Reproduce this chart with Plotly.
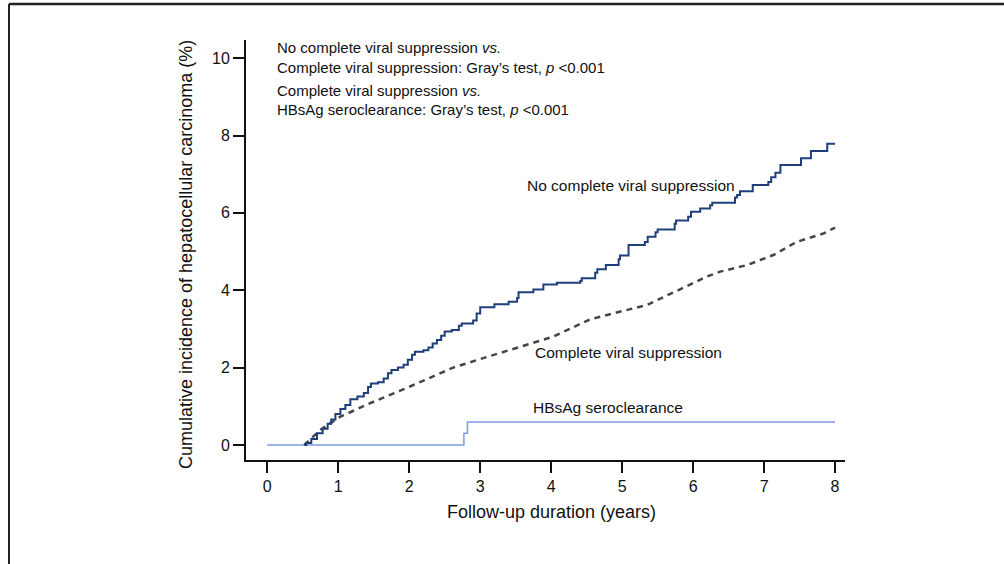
import plotly.graph_objects as go

# ---- data ----
ncvs_x = [0.52, 0.55, 0.62, 0.70, 0.78, 0.85, 0.90, 0.96, 1.03, 1.10, 1.17, 1.27, 1.36, 1.42, 1.46,
          1.56, 1.64, 1.70, 1.75, 1.84, 1.92, 1.98, 2.04, 2.08, 2.20, 2.27, 2.33, 2.39, 2.45, 2.50,
          2.60, 2.70, 2.74, 2.90, 2.95, 3.00, 3.20, 3.40, 3.52, 3.54, 3.75, 3.89, 4.08, 4.41, 4.43,
          4.62, 4.65, 4.77, 4.95, 4.97, 5.09, 5.32, 5.36, 5.47, 5.50, 5.74, 5.76, 5.93, 5.97, 6.10,
          6.24, 6.27, 6.59, 6.62, 6.66, 6.84, 7.06, 7.10, 7.16, 7.23, 7.52, 7.66, 7.89, 8.00]
ncvs_y = [0.00, 0.05, 0.15, 0.30, 0.42, 0.55, 0.66, 0.80, 0.93, 1.03, 1.18, 1.25, 1.34, 1.50, 1.59,
          1.62, 1.72, 1.85, 1.94, 2.00, 2.07, 2.20, 2.33, 2.41, 2.45, 2.52, 2.62, 2.71, 2.82, 2.93,
          2.97, 3.08, 3.14, 3.22, 3.40, 3.56, 3.64, 3.70, 3.80, 3.95, 4.02, 4.15, 4.19, 4.24, 4.31,
          4.45, 4.54, 4.65, 4.80, 4.90, 5.17, 5.25, 5.38, 5.50, 5.57, 5.72, 5.80, 5.90, 6.03, 6.11,
          6.20, 6.26, 6.40, 6.46, 6.56, 6.72, 6.80, 6.92, 7.04, 7.24, 7.41, 7.60, 7.79, 7.79]

cvs_x = [0.52, 0.60, 0.75, 1.03, 1.45, 2.01, 2.62, 3.00, 3.51, 4.03, 4.55, 4.97, 5.35, 5.72, 6.19,
         6.38, 6.76, 7.13, 7.46, 7.84, 8.00]
cvs_y = [0.00, 0.13, 0.39, 0.73, 1.08, 1.51, 2.00, 2.22, 2.50, 2.80, 3.25, 3.44, 3.62, 3.94, 4.35,
         4.48, 4.65, 4.91, 5.25, 5.47, 5.62]

hbs_x = [0.00, 2.77, 2.82, 8.00]
hbs_y = [0.00, 0.30, 0.59, 0.59]

x_ticks = [0, 1, 2, 3, 4, 5, 6, 7, 8]
y_ticks = [0, 2, 4, 6, 8, 10]

labels = ["No complete viral suppression", "Complete viral suppression", "HBsAg seroclearance"]
label_pos = [(5.13, 6.72), (5.09, 2.40), (4.80, 0.96)]

stats_lines = [
    "No complete viral suppression <i>vs.</i>",
    "Complete viral suppression: Gray\u2019s test, <i>p</i> <0.001",
    "Complete viral suppression <i>vs.</i>",
    "HBsAg seroclearance: Gray\u2019s test, <i>p</i> <0.001",
]
x_title = "Follow-up duration (years)"
y_title = "Cumulative incidence of hepatocellular carcinoma (%)"

FONT = "Liberation Sans, Arial, sans-serif"
W, H = 1004, 564
L, R, T, B = 246, 845, 40, 460

fig = go.Figure()
fig.add_trace(go.Scatter(x=hbs_x, y=hbs_y, mode="lines", line=dict(color="#7f9ce2", width=1.5, shape="hv"),
                         showlegend=False, hoverinfo="skip"))
fig.add_trace(go.Scatter(x=cvs_x, y=cvs_y, mode="lines", line=dict(color="#454545", width=2.5, dash="6px,5px"),
                         showlegend=False, hoverinfo="skip"))
fig.add_trace(go.Scatter(x=ncvs_x, y=ncvs_y, mode="lines", line=dict(color="#1f3f7c", width=2, shape="hv"),
                         showlegend=False, hoverinfo="skip"))

for txt, (lx, ly) in zip(labels, label_pos):
    fig.add_annotation(x=lx, y=ly, text=txt, showarrow=False, xanchor="center", yanchor="middle",
                       font=dict(family=FONT, size=15.5, color="#111"))

def px_to_paper(px, py):
    return (px - L) / (R - L), (B - py) / (B - T)

for txt, py in zip(stats_lines, [47, 67, 90, 110]):
    xp, yp = px_to_paper(275, py)
    fig.add_annotation(x=xp, y=yp, xref="paper", yref="paper", text=txt, showarrow=False,
                       xanchor="left", yanchor="middle", font=dict(family=FONT, size=15, color="#111"))

# axis titles
xp, yp = px_to_paper(551, 512)
fig.add_annotation(x=xp, y=yp, xref="paper", yref="paper", text=x_title, showarrow=False,
                   xanchor="center", yanchor="middle", font=dict(family=FONT, size=18, color="#111"))
xp, yp = px_to_paper(186, 255)
fig.add_annotation(x=xp, y=yp, xref="paper", yref="paper", text=y_title, showarrow=False, textangle=-90,
                   xanchor="center", yanchor="middle", font=dict(family=FONT, size=18, color="#111"))

# outer frame (top and left)
x0, y0 = px_to_paper(9, 4)
x1, _ = px_to_paper(1004, 4)
_, y1 = px_to_paper(9, 564)
fig.add_shape(type="line", xref="paper", yref="paper", x0=x0, y0=y0, x1=x1, y1=y0,
              line=dict(color="#222", width=2.5))
fig.add_shape(type="line", xref="paper", yref="paper", x0=x0, y0=y0, x1=x0, y1=y1,
              line=dict(color="#222", width=2))

fig.update_layout(
    width=W, height=H,
    margin=dict(l=L, r=W - R, t=T, b=H - B, pad=0),
    paper_bgcolor="white", plot_bgcolor="white",
    font=dict(family=FONT, size=16, color="#111"),
    xaxis=dict(range=[-0.30, 8.14], tickvals=x_ticks, ticks="outside", ticklen=11, tickwidth=1.8,
               tickcolor="#111", showline=True, linecolor="#111", linewidth=1.8, showgrid=False,
               zeroline=False, tickfont=dict(size=16), fixedrange=True),
    yaxis=dict(range=[-0.39, 10.47], tickvals=y_ticks, ticks="outside", ticklen=11, tickwidth=1.8,
               tickcolor="#111", showline=True, linecolor="#111", linewidth=1.8, showgrid=False,
               zeroline=False, tickfont=dict(size=16), fixedrange=True),
)

fig.write_html("out.html")
